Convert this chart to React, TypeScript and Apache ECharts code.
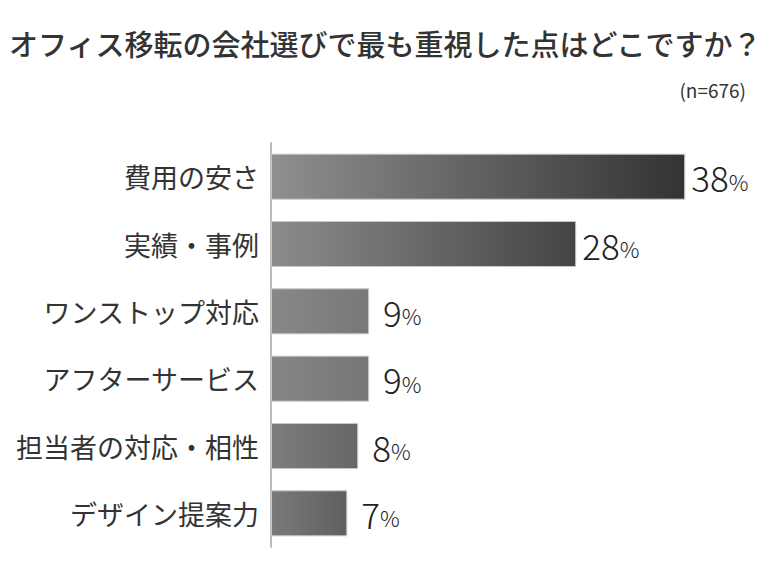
import React, { useEffect, useRef } from "react";
import * as echarts from "echarts";

const categories = [
  "費用の安さ",
  "実績・事例",
  "ワンストップ対応",
  "アフターサービス",
  "担当者の対応・相性",
  "デザイン提案力",
];
const values = [38, 28, 9, 9, 8, 7];
const titleText = "オフィス移転の会社選びで最も重視した点はどこですか？";
const sampleText = "(n=676)";

const barColors: [string, string][] = [
  ["#8f8f8f", "#333333"],
  ["#8c8c8c", "#444444"],
  ["#888888", "#787878"],
  ["#868686", "#767676"],
  ["#7e7e7e", "#666666"],
  ["#7a7a7a", "#5f5f5f"],
];

export default function App() {
  const ref = useRef<HTMLDivElement>(null);
  useEffect(() => {
    if (!ref.current) return;
    const chart = echarts.init(ref.current, undefined, { renderer: "svg" });
    const font = "'Noto Sans CJK JP', 'Noto Sans', sans-serif";
    chart.setOption({
      animation: false,
      backgroundColor: "#ffffff",
      textStyle: { fontFamily: font },
      title: [
        {
          text: titleText,
          left: 4,
          top: 23,
          textStyle: { fontSize: 29, fontWeight: 500, color: "#333333", fontFamily: font },
        },
        {
          text: sampleText,
          right: 21,
          top: 75,
          textStyle: { fontSize: 19, fontWeight: "normal", color: "#333333", fontFamily: font },
        },
      ],
      grid: { left: 271, top: 143, height: 404, width: 436 },
      xAxis: {
        type: "value",
        min: 0,
        max: 40,
        show: false,
      },
      yAxis: {
        type: "category",
        data: categories,
        inverse: true,
        axisLine: { show: true, lineStyle: { color: "#bbbbbb", width: 2 } },
        axisTick: { show: false },
        axisLabel: { fontSize: 27, color: "#333333", margin: 12, fontFamily: font },
      },
      series: [
        {
          type: "bar",
          barWidth: 46,
          data: values.map((v, i) => ({
            value: v,
            itemStyle: {
              color: new echarts.graphic.LinearGradient(0, 0, 1, 0, [
                { offset: 0, color: barColors[i][0] },
                { offset: 1, color: barColors[i][1] },
              ]),
              borderColor: "#c8c8c8",
              borderWidth: 1,
            },
            label: {
              show: true,
              position: "right",
              distance: v >= 10 ? 6 : 14,
              formatter: (p: any) => `{n|${p.value}}{p|%}`,
              rich: {
                n: { fontSize: 35, color: "#222222", fontFamily: font, fontWeight: 300 },
                p: { fontSize: 22, color: "#222222", fontFamily: font, fontWeight: 300, padding: [8, 0, 0, 0] },
              },
            },
          })),
        },
      ],
    });
    return () => chart.dispose();
  }, []);
  return (
    <div
      ref={ref}
      style={{ position: "absolute", left: 0, top: 0, width: 772, height: 580 }}
    />
  );
}
